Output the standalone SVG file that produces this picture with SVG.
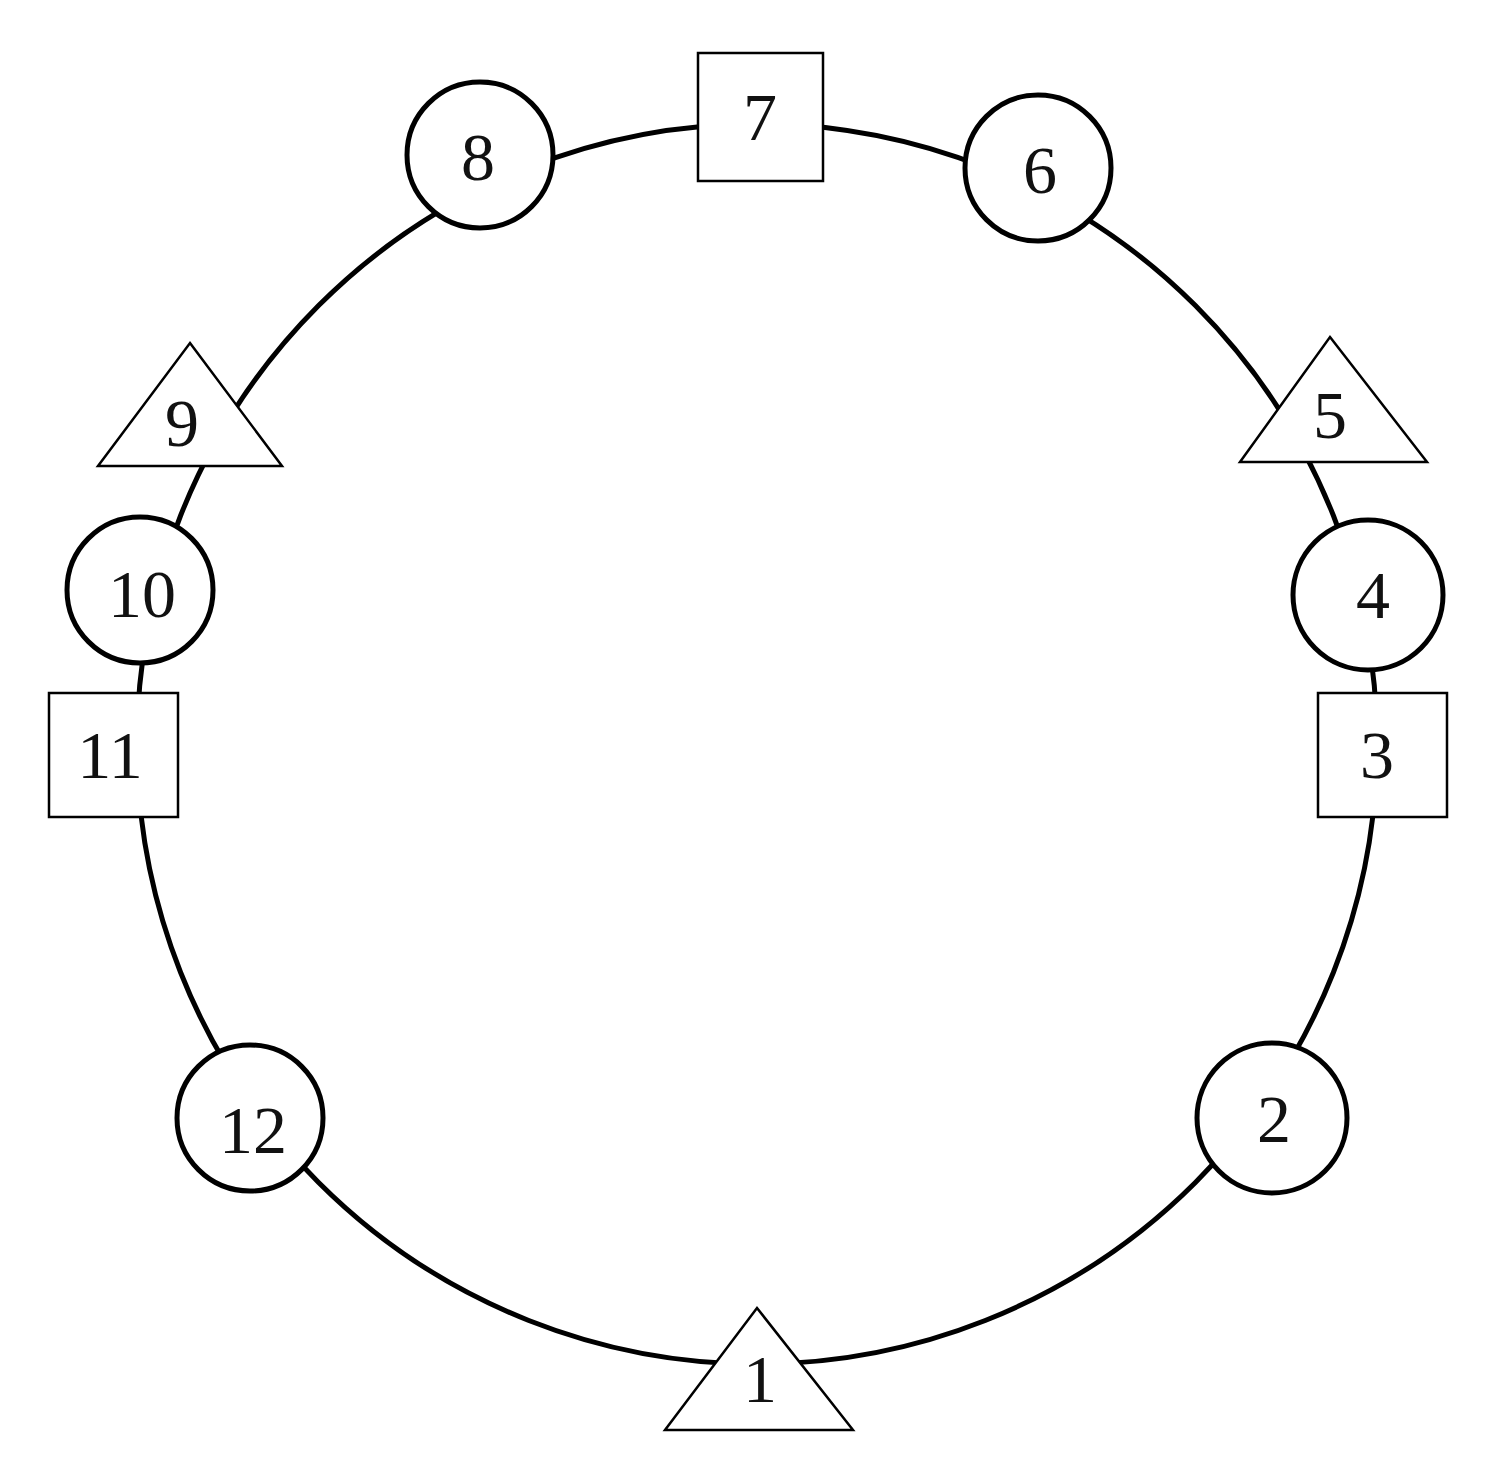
<svg xmlns="http://www.w3.org/2000/svg" width="1490" height="1473" viewBox="0 0 1490 1473">
<style>
.c{fill:#fff;stroke:#000;stroke-width:5}
.s{fill:#fff;stroke:#000;stroke-width:2.5}
text{font-family:"Liberation Serif",serif;font-size:68px;text-anchor:middle;fill:#111}
</style>
<rect width="1490" height="1473" fill="#fff"/>
<g id="connectors"><circle cx="757" cy="744" r="620" fill="none" stroke="#000" stroke-width="5"/></g>
<g id="n7"><rect class="s" x="698" y="53" width="125" height="128"/><text x="760" y="140">7</text></g>
<g id="n8"><circle class="c" cx="480" cy="155" r="73"/><text x="478" y="180">8</text></g>
<g id="n6"><circle class="c" cx="1038" cy="168" r="73"/><text x="1040" y="193">6</text></g>
<g id="n5"><polygon class="s" points="1330,337 1427,462 1240,462"/><text x="1330" y="438">5</text></g>
<g id="n4"><circle class="c" cx="1368" cy="595" r="75"/><text x="1373" y="618">4</text></g>
<g id="n3"><rect class="s" x="1318" y="693" width="129" height="124"/><text x="1377" y="778">3</text></g>
<g id="n2"><circle class="c" cx="1272" cy="1118" r="75"/><text x="1274" y="1142">2</text></g>
<g id="n1"><polygon class="s" points="757,1308 853,1430 665,1430"/><text x="760" y="1402">1</text></g>
<g id="n12"><circle class="c" cx="250" cy="1118" r="73"/><text x="253" y="1153">12</text></g>
<g id="n11"><rect class="s" x="49" y="693" width="129" height="124"/><text x="110" y="778">11</text></g>
<g id="n10"><circle class="c" cx="140" cy="590" r="73"/><text x="142" y="617">10</text></g>
<g id="n9"><polygon class="s" points="190,343 282,466 98,466"/><text x="182" y="446">9</text></g>
</svg>
